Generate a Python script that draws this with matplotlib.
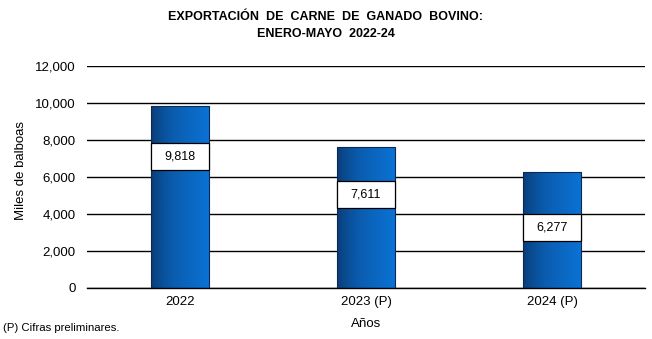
import matplotlib
matplotlib.use("Agg")
import matplotlib.pyplot as plt
import numpy as np
from matplotlib.patches import Rectangle
from matplotlib.colors import LinearSegmentedColormap

plt.rcParams['font.family'] = ['Liberation Sans', 'DejaVu Sans']

# Data
years = ["2022", "2023 (P)", "2024 (P)"]
values = [9818, 7611, 6277]
y_ticks = [0, 2000, 4000, 6000, 8000, 10000, 12000]

title = "EXPORTACIÓN  DE  CARNE  DE  GANADO  BOVINO:\nENERO-MAYO  2022-24"

fig = plt.figure(figsize=(6.52, 3.39), dpi=100)
ax = fig.add_axes([87 / 652, 1 - 288 / 339, 558 / 652, 222 / 339])

x = np.arange(len(years))
bar_w = 0.312
bars = ax.bar(x, values, width=bar_w, facecolor='none', edgecolor='#0a2a55',
              linewidth=0.8, zorder=3)

# horizontal blue gradient inside each bar
cmap = LinearSegmentedColormap.from_list('blues', ['#0a3a72', '#0a5cae', '#0b72d4'])
grad = np.linspace(0, 1, 256).reshape(1, -1) ** 0.7
for b in bars:
    x0, y0 = b.get_x(), b.get_y()
    w, h = b.get_width(), b.get_height()
    im = ax.imshow(grad, cmap=cmap, aspect='auto', extent=[x0, x0 + w, y0, y0 + h],
                   zorder=2, interpolation='bicubic')
    im.set_clip_path(b)

# value boxes
label_centers = [7108, 5054, 3297]
box_h = 27 / 222 * 12000
for b, v, yc in zip(bars, values, label_centers):
    ax.add_patch(Rectangle((b.get_x(), yc - box_h / 2), b.get_width(), box_h,
                           facecolor='white', edgecolor='black', linewidth=0.9, zorder=4))
    ax.text(b.get_x() + b.get_width() / 2, yc, f"{v:,}", ha='center', va='center',
            fontsize=9, color='black', zorder=5)

ax.set_xlim(-0.5, 2.5)
ax.set_ylim(0, 12000)
ax.set_yticks(y_ticks)
ax.set_yticklabels([f"{t:,}" for t in y_ticks], fontsize=9.5)
ax.set_xticks(x)
ax.set_xticklabels(years, fontsize=9.5)
ax.tick_params(axis='y', length=0, pad=8)
ax.tick_params(axis='x', length=0, pad=6)
ax.grid(axis='y', color='black', linewidth=1.0, zorder=1)
ax.set_axisbelow(True)
for s in ['top', 'right', 'left']:
    ax.spines[s].set_visible(False)
ax.spines['bottom'].set_color('black')
ax.spines['bottom'].set_linewidth(1.0)

ax.set_ylabel("Miles de balboas", fontsize=9.5)
ax.yaxis.set_label_coords(-0.108, 0.53)
ax.set_xlabel("Años", fontsize=9.5, labelpad=7)

fig.text(0.5, 1 - 25.5 / 339, title, ha='center', va='center', fontsize=9,
         fontweight='bold', linespacing=1.45)
fig.text(3 / 652, 1 - 328 / 339, "(P) Cifras preliminares.", ha='left', va='center',
         fontsize=8.2)

fig.savefig("out.png", dpi=100)
